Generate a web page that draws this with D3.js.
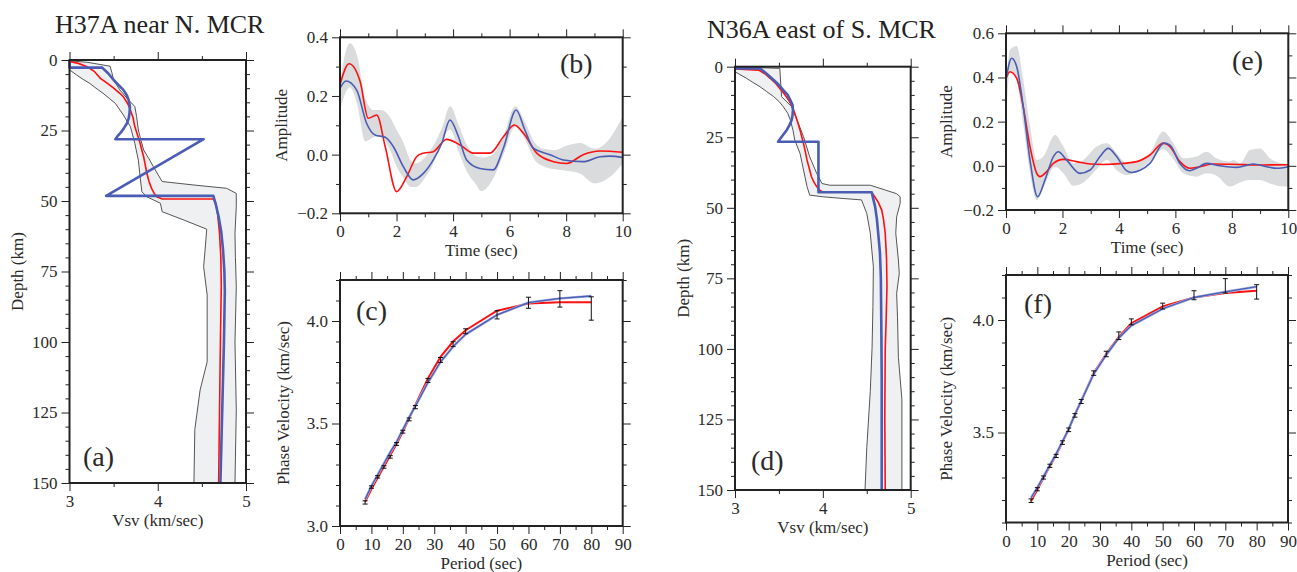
<!DOCTYPE html>
<html><head><meta charset="utf-8">
<script src="https://cdn.jsdelivr.net/npm/d3@7"></script>
<style>
body{margin:0;background:#fff}
</style>
</head><body><script>
// ---------------- DATA ----------------
// Panel (a) H37A Vsv profiles: [Vsv, depth]
const redA_v = [3.0,3.1,3.2,3.28,3.35,3.43,3.5,3.57,3.61,3.66,3.69,3.72,3.74,3.77,3.8,3.82,3.84,3.86,3.875,3.9,3.93,3.96,3.99,4.05,4.63,4.66,4.68,4.7,4.715,4.72,4.71,4.70,4.69];
const redA_d = [0.5,1.2,2.4,4,6.5,8.3,10,11.8,13,15.5,17.7,20.5,23.6,26.5,29.5,32,34.3,37.5,40,43,45.5,47.3,48.5,49.3,49.3,51,55,61.5,70,80,100,125,150];
const blueA_v = [3.0,3.0,3.37,3.44,3.5,3.56,3.61,3.65,3.67,3.685,3.68,3.67,3.65,3.62,3.59,3.55,3.52,4.52,3.415,4.63,4.66,4.69,4.72,4.74,4.755,4.76,4.75,4.73,4.71];
const blueA_d = [0,2.7,2.7,4.8,7.1,9,10.6,12.5,14.2,16.5,18.9,20.8,22.5,24,25.4,26.8,28.1,28.1,48.2,48.2,51.5,55.6,61,67.4,75,82,100,125,150];
const bandLoA_v = [3.0,3.08,3.15,3.23,3.3,3.38,3.45,3.52,3.61,3.69,3.74,3.78,3.8,3.82,3.875,3.95,4.03,4.05,4.3,4.555,4.54,4.52,4.56,4.56,4.48,4.42,4.41];
const bandLoA_d = [3.5,5.3,6.8,8.3,10,11.8,13.6,15.4,19.5,23.6,29.5,35.5,41.4,46.7,48.5,49.6,50.8,53.8,56.8,60,66,73.3,83.3,107,117,131,150];
const bandHiA_v = [3.0,3.2,3.46,3.48,3.5,3.57,3.67,3.74,3.76,3.78,3.81,3.84,3.9,3.95,4.0,4.05,4.4,4.78,4.89,4.89,4.875,4.88,4.89,4.875,4.89,4.875];
const bandHiA_d = [0.3,0.8,2.2,4.5,7.1,10.6,14.2,16.5,20,24.8,28.5,31.9,35,37.8,40.5,43.1,44.3,45.5,47.3,52,61.5,70,80.4,100,124,150];

// Panel (d) N36A Vsv profiles
const redD_v = [3.0,3.27,3.34,3.4,3.46,3.51,3.56,3.61,3.65,3.68,3.71,3.74,3.76,3.78,3.8,3.82,3.845,3.87,3.9,3.93,3.96,4.0,4.556,4.59,4.63,4.67,4.69,4.71,4.725,4.73,4.72,4.71,4.705,4.71];
const redD_d = [0.8,1.2,2.5,4.1,5.8,7.7,9.6,11.8,14,16.5,19.3,22.4,24.8,27.2,30,33.1,36,39,41,42.5,43.7,44.5,44.5,46.1,48,50.8,54,59,68,78,90,100,125,150];
const blueD_v = [3.0,3.285,3.36,3.44,3.5,3.55,3.6,3.63,3.655,3.66,3.655,3.645,3.62,3.59,3.54,3.49,3.95,3.95,4.556,4.575,4.595,4.615,4.63,4.65,4.66,4.665,4.67,4.67];
const blueD_d = [0.6,0.6,2.5,4.7,6.5,8.3,10,11.8,13.6,15.4,17,18.9,20.7,22.4,24.5,26.6,26.6,44.5,44.5,47,49.6,54,59,66,74.4,90,110,150];
const bandLoD_v = [3.0,3.13,3.2,3.285,3.36,3.44,3.5,3.55,3.6,3.63,3.66,3.68,3.74,3.78,3.82,3.85,4.0,4.23,4.44,4.5,4.54,4.575,4.57,4.56,4.54,4.5,4.48];
const bandLoD_d = [1.8,4.1,5.5,7.1,8.8,10.6,12.3,14.2,16.5,18.9,22.5,26,30.7,36.6,42.5,45.5,46.1,46.7,47.2,52,59,70.9,85,100,115,135,150];
const bandHiD_v = [3.0,3.51,3.53,3.645,3.72,3.78,3.85,3.93,3.99,4.08,4.54,4.84,4.88,4.88,4.84,4.83,4.86,4.87,4.84,4.85,4.86,4.9,4.9];
const bandHiD_d = [0,0.6,10.6,14.2,20,24.8,31.9,37.8,41.4,42,42,45,46.1,48.4,53.2,59,68.5,73.3,80.3,89,103,118,150];

// Panel (b) receiver functions
const tRedB = [0,0.32,0.71,1.0,1.3,1.6,2.0,2.36,2.71,2.95,3.3,3.77,4.25,4.72,5.3,5.78,6.17,6.49,6.96,7.55,8.02,8.6,9.2,10];
const aRedB = [0.239,0.31,0.25,0.124,0.135,0.027,-0.126,-0.075,-0.007,0.005,0.01,0.052,0.033,0.005,0.005,0.061,0.101,0.073,0.005,-0.024,-0.03,0.0,0.0125,0.008];
const tBlueB = [0,0.21,0.59,0.94,1.24,1.6,1.89,2.24,2.59,2.95,3.3,3.6,3.89,4.19,4.48,4.95,5.42,5.78,6.23,6.54,6.84,7.43,7.9,8.6,9.2,9.55,10];
const aBlueB = [0.226,0.251,0.22,0.107,0.067,0.059,0.027,-0.041,-0.086,-0.064,-0.018,0.039,0.118,0.061,-0.018,-0.047,-0.052,0.022,0.152,0.084,0.022,0.0,-0.018,-0.024,-0.007,-0.005,-0.01];
const tBandB = [0,0.15,0.35,0.6,0.9,1.2,1.45,1.75,2.0,2.25,2.5,2.7,3.0,3.3,3.6,3.9,4.2,4.5,4.8,5.0,5.4,5.8,6.2,6.5,6.9,7.2,7.6,8.0,8.5,9.0,9.5,10];
const hiBandB = [0.24,0.33,0.38,0.34,0.19,0.152,0.152,0.13,0.085,0.04,-0.02,-0.03,-0.01,0.03,0.09,0.165,0.1,0.03,-0.005,-0.01,0.0,0.07,0.165,0.12,0.04,0.02,0.015,0.03,0.04,0.02,0.05,0.13];
const loBandB = [0.15,0.2,0.23,0.175,0.045,0.06,0.065,0.02,-0.04,-0.08,-0.11,-0.11,-0.08,-0.03,0.05,0.085,0.01,-0.06,-0.1,-0.125,-0.085,0.005,0.095,0.06,-0.02,-0.04,-0.05,-0.055,-0.065,-0.098,-0.08,-0.03];

// Panel (e) receiver functions
const tRedE = [0,0.14,0.38,0.61,0.85,1.09,1.2,1.44,1.68,2.03,2.5,2.98,3.45,4.16,4.63,5.1,5.57,5.81,6.16,6.52,6.87,7.34,7.93,9.11,10];
const aRedE = [0.396,0.426,0.396,0.268,0.087,-0.034,-0.049,-0.026,0.011,0.029,0.019,0.008,0.006,0.011,0.019,0.049,0.103,0.087,0.019,-0.011,-0.004,0.008,0.007,0.004,0.005];
const tBlueE = [0,0.2,0.38,0.61,0.85,1.12,1.38,1.68,1.85,2.15,2.62,2.98,3.33,3.62,3.92,4.27,4.45,4.75,5.1,5.6,5.81,6.16,6.5,6.75,7.1,7.58,8.17,8.76,9.23,9.59,10];
const aBlueE = [0.39,0.487,0.449,0.268,0.026,-0.14,-0.064,0.042,0.064,0.026,-0.034,-0.019,0.042,0.079,0.042,-0.022,-0.03,-0.02,0.011,0.103,0.094,0.011,-0.022,-0.011,0.011,0.0,-0.007,0.008,-0.004,-0.011,-0.004];
const tBandE = [0,0.14,0.38,0.61,0.85,1.09,1.32,1.74,2.03,2.38,2.74,3.21,3.57,3.92,4.27,4.75,5.1,5.57,5.93,6.28,6.75,7.1,7.46,7.93,8.05,8.29,8.64,9.0,9.35,9.82,10];
const hiBandE = [0.34,0.525,0.543,0.39,0.18,0.026,0.042,0.14,0.087,0.011,0.026,0.087,0.102,0.057,0.011,0.026,0.057,0.155,0.102,0.034,0.042,0.064,0.034,0.019,0.026,0.011,0.072,0.079,0.034,0.011,0.011];
const loBandE = [0.2,0.43,0.39,0.19,-0.034,-0.155,-0.1,-0.004,-0.034,-0.09,-0.075,-0.015,0.026,-0.02,-0.042,-0.015,0.02,0.075,0.03,-0.034,-0.049,-0.034,-0.045,-0.094,-0.09,-0.075,-0.064,-0.064,-0.08,-0.094,-0.094];

// Panels (c) and (f) dispersion curves
const periods = [8,10,12,14,16,18,20,22,24,28,32,36,40,50,60,70,80];
const obsC  = [3.115,3.19,3.24,3.288,3.337,3.4,3.46,3.52,3.58,3.71,3.81,3.887,3.95,4.03,4.089,4.108,4.061];
const errC  = [0.008,0.006,0.006,0.006,0.006,0.007,0.007,0.007,0.008,0.01,0.012,0.012,0.012,0.02,0.027,0.04,0.057];
const redC  = [3.118,3.18,3.235,3.29,3.345,3.4,3.46,3.525,3.59,3.72,3.825,3.9,3.955,4.05,4.085,4.092,4.092];
const blueC = [3.13,3.195,3.25,3.305,3.36,3.41,3.47,3.53,3.585,3.7,3.8,3.875,3.935,4.03,4.09,4.11,4.122];
const obsF  = [3.197,3.248,3.3,3.352,3.396,3.455,3.512,3.576,3.638,3.764,3.849,3.93,3.992,4.062,4.11,4.152,4.125];
const errF  = [0.008,0.007,0.007,0.007,0.007,0.008,0.008,0.008,0.009,0.01,0.012,0.017,0.013,0.013,0.02,0.032,0.032];
const redF  = [3.195,3.245,3.3,3.35,3.4,3.455,3.515,3.58,3.64,3.765,3.85,3.925,3.985,4.06,4.1,4.12,4.13];
const blueF = [3.21,3.255,3.305,3.355,3.405,3.46,3.515,3.58,3.64,3.76,3.845,3.92,3.975,4.05,4.1,4.125,4.148];

// Tick values
const depthMajor = [0,25,50,75,100,125,150];
const depthMinor = [5,10,15,20,30,35,40,45,55,60,65,70,80,85,90,95,105,110,115,120,130,135,140,145];
const vsMajor = [3,4,5];
const vsMinor = [3.5,4.5];
const timeMajor = [0,2,4,6,8,10];
const timeMinor = [1,3,5,7,9];
const ampMajorB = [-0.2,0.0,0.2,0.4];
const ampMinorB = [-0.1,0.1,0.3];
const ampMajorE = [-0.2,0.0,0.2,0.4,0.6];
const ampMinorE = [-0.1,0.1,0.3,0.5];
const perMajor = [0,10,20,30,40,50,60,70,80,90];
const perMinor = [5,15,25,35,45,55,65,75,85];
const pvMajorC = [3.0,3.5,4.0];
const pvMinorC = [3.1,3.2,3.3,3.4,3.6,3.7,3.8,3.9,4.1,4.2];
const pvMajorF = [3.5,4.0];
const pvMinorF = [3.1,3.2,3.3,3.4,3.6,3.7,3.8,3.9,4.1,4.2];

const titles = ["H37A near N. MCR","N36A east of S. MCR"];

// ---------------- DRAW ----------------
const FONT = '"Liberation Serif","Times New Roman",Times,serif';
const RED = "#ff1010", BLUE = "#4a5cb4", TXT = "#2a2a2a";
const svg = d3.select("body").append("svg").attr("width",1297).attr("height",572)
  .style("font-family",FONT);

function panel(c){
  const x = d3.scaleLinear().domain(c.xDom).range([c.x0,c.x1]);
  const y = d3.scaleLinear().domain(c.yDom).range([c.y0,c.y1]);
  const g = svg.append("g");
  c.draw(g,x,y);
  const axes = [
    [d3.axisLeft(y).tickValues(c.yMajor).tickSize(8).tickPadding(4).tickFormat(c.yFmt), c.x0, 0],
    [d3.axisLeft(y).tickValues(c.yMinor).tickSize(4).tickFormat(""), c.x0, 0],
    [d3.axisRight(y).tickValues(c.yMajor).tickSize(8).tickFormat(""), c.x1, 0],
    [d3.axisRight(y).tickValues(c.yMinor).tickSize(4).tickFormat(""), c.x1, 0],
    [d3.axisBottom(x).tickValues(c.xMajor).tickSize(8).tickPadding(4).tickFormat(c.xFmt), 0, c.y1],
    [d3.axisBottom(x).tickValues(c.xMinor).tickSize(4).tickFormat(""), 0, c.y1],
    [d3.axisTop(x).tickValues(c.xMajor).tickSize(8).tickFormat(""), 0, c.y0],
    [d3.axisTop(x).tickValues(c.xMinor).tickSize(4).tickFormat(""), 0, c.y0]
  ];
  axes.forEach(([ax,tx,ty])=>{
    const ag = g.append("g").attr("transform",`translate(${tx},${ty})`).call(ax);
    ag.select(".domain").remove();
    ag.attr("font-family",FONT).attr("font-size",17).attr("color","#222");
    ag.selectAll("text").attr("fill",TXT);
  });
  g.append("rect").attr("x",c.x0).attr("y",c.y0).attr("width",c.x1-c.x0).attr("height",c.y1-c.y0)
    .attr("fill","none").attr("stroke","#222").attr("stroke-width",2);
  g.append("text").attr("x",(c.x0+c.x1)/2).attr("y",c.y1+43).attr("text-anchor","middle")
    .attr("font-size",17).attr("fill",TXT).text(c.xLabel);
  g.append("text").attr("transform",`translate(${c.yLabelX},${(c.y0+c.y1)/2}) rotate(-90)`)
    .attr("text-anchor","middle").attr("font-size",17).attr("fill",TXT).text(c.yLabel);
  g.append("text").attr("x",c.lx).attr("y",c.ly).attr("font-size",28).attr("fill",TXT).text(c.letter);
}

function zip(a,b){return a.map((v,i)=>[v,b[i]]);}

function drawProfile(red_v,red_d,blue_v,blue_d,lo_v,lo_d,hi_v,hi_d){
  return (g,x,y)=>{
    const line = d3.line().x(p=>x(p[0])).y(p=>y(p[1]));
    const lo = zip(lo_v,lo_d), hi = zip(hi_v,hi_d);
    g.append("path").attr("d", line(lo.concat(hi.slice().reverse())) + "Z")
      .attr("fill","#eef0f2").attr("stroke","none");
    [lo,hi].forEach(e=>g.append("path").attr("d",line(e)).attr("fill","none")
      .attr("stroke","#555").attr("stroke-width",1));
    g.append("path").attr("d",line(zip(red_v,red_d))).attr("fill","none")
      .attr("stroke",RED).attr("stroke-width",1.6);
    g.append("path").attr("d",line(zip(blue_v,blue_d))).attr("fill","none")
      .attr("stroke",BLUE).attr("stroke-width",2.6).attr("stroke-linejoin","round");
  };
}

function drawWave(tR,aR,tB,aB,tBand,hi,lo){
  return (g,x,y)=>{
    const area = d3.area().curve(d3.curveMonotoneX).x((d,i)=>x(tBand[i])).y0((d,i)=>y(lo[i])).y1((d,i)=>y(hi[i]));
    g.append("path").attr("d",area(tBand)).attr("fill","#d9dbdc");
    const line = d3.line().curve(d3.curveMonotoneX).x(p=>x(p[0])).y(p=>y(p[1]));
    g.append("path").attr("d",line(zip(tR,aR))).attr("fill","none").attr("stroke",RED).attr("stroke-width",1.6);
    g.append("path").attr("d",line(zip(tB,aB))).attr("fill","none").attr("stroke",BLUE).attr("stroke-width",1.6);
  };
}

function drawDisp(obs,err,red,blue){
  return (g,x,y)=>{
    const line = d3.line().x(p=>x(p[0])).y(p=>y(p[1]));
    g.append("path").attr("d",line(zip(periods,red))).attr("fill","none").attr("stroke",RED).attr("stroke-width",2);
    g.append("path").attr("d",line(zip(periods,blue))).attr("fill","none").attr("stroke","#aab4e0").attr("stroke-width",2.6);
    g.append("path").attr("d",line(zip(periods,blue))).attr("fill","none").attr("stroke",BLUE).attr("stroke-width",1.3);
    const eb = g.append("g").attr("stroke","#111").attr("stroke-width",1);
    periods.forEach((p,i)=>{
      const px = x(p), yt = y(obs[i]+err[i]), yb = y(obs[i]-err[i]);
      eb.append("line").attr("x1",px).attr("x2",px).attr("y1",yt).attr("y2",yb);
      eb.append("line").attr("x1",px-2.5).attr("x2",px+2.5).attr("y1",yt).attr("y2",yt);
      eb.append("line").attr("x1",px-2.5).attr("x2",px+2.5).attr("y1",yb).attr("y2",yb);
    });
  };
}

const f0 = d3.format("d"), f1 = d3.format(".1f");

panel({x0:69.5,x1:246,y0:60,y1:483,xDom:[3,5],yDom:[0,150],xMajor:vsMajor,xMinor:vsMinor,yMajor:depthMajor,yMinor:depthMinor,
  xFmt:f0,yFmt:f0,xLabel:"Vsv (km/sec)",yLabel:"Depth (km)",yLabelX:23,letter:"(a)",lx:83,ly:466,
  draw:drawProfile(redA_v,redA_d,blueA_v,blueA_d,bandLoA_v,bandLoA_d,bandHiA_v,bandHiA_d)});
panel({x0:340,x1:622.7,y0:37.3,y1:213.3,xDom:[0,10],yDom:[0.4,-0.2],xMajor:timeMajor,xMinor:timeMinor,yMajor:ampMajorB,yMinor:ampMinorB,
  xFmt:f0,yFmt:f1,xLabel:"Time (sec)",yLabel:"Amplitude",yLabelX:287,letter:"(b)",lx:560,ly:73,
  draw:drawWave(tRedB,aRedB,tBlueB,aBlueB,tBandB,hiBandB,loBandB)});
panel({x0:340,x1:622.7,y0:280,y1:526,xDom:[0,90],yDom:[4.2,3.0],xMajor:perMajor,xMinor:perMinor,yMajor:pvMajorC,yMinor:pvMinorC,
  xFmt:f0,yFmt:f1,xLabel:"Period (sec)",yLabel:"Phase Velocity (km/sec)",yLabelX:289,letter:"(c)",lx:356,ly:320,
  draw:drawDisp(obsC,errC,redC,blueC)});
panel({x0:735,x1:910.7,y0:66.7,y1:490,xDom:[3,5],yDom:[0,150],xMajor:vsMajor,xMinor:vsMinor,yMajor:depthMajor,yMinor:depthMinor,
  xFmt:f0,yFmt:f0,xLabel:"Vsv (km/sec)",yLabel:"Depth (km)",yLabelX:689,letter:"(d)",lx:751,ly:470,
  draw:drawProfile(redD_v,redD_d,blueD_v,blueD_d,bandLoD_v,bandLoD_d,bandHiD_v,bandHiD_d)});
panel({x0:1006,x1:1288.3,y0:33.3,y1:210,xDom:[0,10],yDom:[0.6,-0.2],xMajor:timeMajor,xMinor:timeMinor,yMajor:ampMajorE,yMinor:ampMinorE,
  xFmt:f0,yFmt:f1,xLabel:"Time (sec)",yLabel:"Amplitude",yLabelX:952,letter:"(e)",lx:1232,ly:70,
  draw:drawWave(tRedE,aRedE,tBlueE,aBlueE,tBandE,hiBandE,loBandE)});
panel({x0:1006,x1:1288,y0:275,y1:522.5,xDom:[0,90],yDom:[4.2,3.1],xMajor:perMajor,xMinor:perMinor,yMajor:pvMajorF,yMinor:pvMinorF,
  xFmt:f0,yFmt:f1,xLabel:"Period (sec)",yLabel:"Phase Velocity (km/sec)",yLabelX:952,letter:"(f)",lx:1024,ly:313,
  draw:drawDisp(obsF,errF,redF,blueF)});

svg.append("text").attr("x",55).attr("y",33).attr("font-size",26).attr("fill","#222").text(titles[0]);
svg.append("text").attr("x",707).attr("y",38).attr("font-size",26).attr("fill","#222").text(titles[1]);
</script></body></html>
